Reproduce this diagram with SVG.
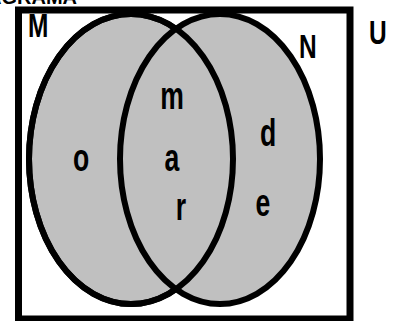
<svg xmlns="http://www.w3.org/2000/svg" width="403" height="321" viewBox="0 0 403 321">
  <style>
    .set { fill: #c0c0c0; stroke: #000; stroke-width: 6; }
    .outline { fill: none; stroke: #000; stroke-width: 6; }
    .lbl { font-family: "Liberation Sans", Arial, sans-serif; font-weight: bold; fill: #000; }
    .cap { font-size: 34px; }
    .elem { font-size: 38px; text-anchor: middle; }
  </style>
  <rect width="403" height="321" fill="#fff"/>
  <text class="lbl" x="77" y="4" font-size="20" text-anchor="end">DIAGRAMA</text>
  <g id="universe">
    <rect x="18.5" y="10" width="331.5" height="309" fill="#fff" stroke="#000" stroke-width="7"/>
  </g>
  <g id="set-M">
    <ellipse class="set" cx="131" cy="159" rx="102" ry="145"/>
  </g>
  <g id="set-N">
    <ellipse class="set" cx="220" cy="159" rx="100" ry="145"/>
  </g>
  <g id="connectors">
    <ellipse class="outline" cx="131" cy="159" rx="102" ry="145"/>
  </g>
  <g id="labels">
    <text class="lbl cap" transform="translate(28,37) scale(0.72,1)">M</text>
    <text class="lbl cap" transform="translate(299,58) scale(0.72,1)">N</text>
    <text class="lbl cap" transform="translate(369,44) scale(0.72,1)">U</text>
    <text class="lbl elem" transform="translate(81,171) scale(0.7,1)">o</text>
    <text class="lbl elem" transform="translate(172,109) scale(0.7,1)">m</text>
    <text class="lbl elem" transform="translate(172,171) scale(0.7,1)">a</text>
    <text class="lbl elem" transform="translate(181,220) scale(0.7,1)">r</text>
    <text class="lbl elem" transform="translate(268,146) scale(0.7,1)">d</text>
    <text class="lbl elem" transform="translate(263,216) scale(0.7,1)">e</text>
  </g>
</svg>
